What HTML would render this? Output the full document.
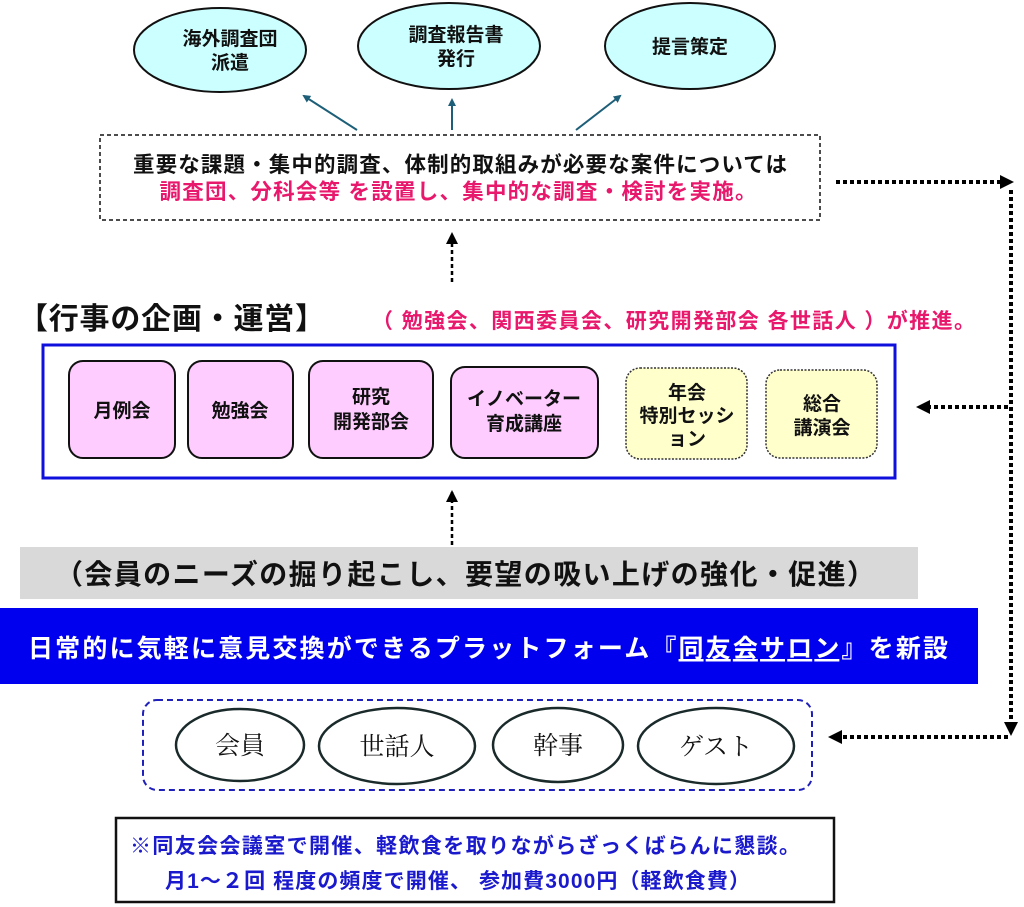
<!DOCTYPE html>
<html><head><meta charset="utf-8"><style>
html,body{margin:0;padding:0;background:#fff;}
svg{display:block;font-family:"Liberation Sans","Noto Sans CJK JP",sans-serif;}
</style></head><body>
<svg width="1024" height="907" viewBox="0 0 1024 907" xmlns="http://www.w3.org/2000/svg">
<defs>
<marker id="ta" markerWidth="8" markerHeight="8" refX="6" refY="4" orient="auto" markerUnits="userSpaceOnUse"><path d="M0,0 L8,4 L0,8 Z" fill="#1d5f78"/></marker>
<marker id="ba" markerWidth="12" markerHeight="12" refX="10" refY="6" orient="auto" markerUnits="userSpaceOnUse"><path d="M0,0 L12,6 L0,12 Z" fill="#000"/></marker>
</defs>
<g fill="#ccffff" stroke="#111" stroke-width="2">
<ellipse cx="220" cy="50" rx="86" ry="42"/>
<ellipse cx="449" cy="46" rx="91" ry="43"/>
<ellipse cx="690" cy="46" rx="85" ry="43"/>
</g>
<g font-size="19" font-weight="bold" text-anchor="middle" fill="#111">
<text x="230" y="45">海外調査団</text><text x="230" y="69">派遣</text>
<text x="456" y="41">調査報告書</text><text x="456" y="65">発行</text>
<text x="690" y="53">提言策定</text>
</g>
<g stroke="#1d5f78" stroke-width="2" marker-end="url(#ta)">
<line x1="357" y1="130" x2="304" y2="96"/>
<line x1="452" y1="130" x2="452" y2="100"/>
<line x1="576" y1="130" x2="620" y2="96"/>
</g>
<rect x="100" y="135" width="720" height="85" fill="none" stroke="#111" stroke-width="1.5" stroke-dasharray="4,3"/>
<text x="460" y="172" font-size="21.5" font-weight="bold" text-anchor="middle" fill="#111" textLength="654">重要な課題・集中的調査、体制的取組みが必要な案件については</text>
<text x="458" y="199" font-size="21.5" font-weight="bold" text-anchor="middle" fill="#e8186c" textLength="597">調査団、分科会等 を設置し、集中的な調査・検討を実施。</text>
<line x1="452" y1="282" x2="452" y2="234" stroke="#000" stroke-width="2.5" stroke-dasharray="4,3" marker-end="url(#ba)"/>
<text x="18" y="329" font-size="30" font-weight="bold" fill="#111" textLength="307">【行事の企画・運営】</text>
<text x="372" y="328" font-size="21" font-weight="bold" fill="#e8186c" textLength="603">（ 勉強会、関西委員会、研究開発部会 各世話人 ）が推進。</text>
<g stroke="#000" stroke-width="4" stroke-dasharray="4,3" fill="none">
<line x1="836" y1="182" x2="1000" y2="182"/>
<line x1="1011" y1="190" x2="1011" y2="722"/>
<line x1="1008" y1="407" x2="930" y2="407"/>
<line x1="1008" y1="737" x2="842" y2="737"/>
</g>
<path d="M1000,175 L1014,182 L1000,189 Z" fill="#000"/>
<path d="M1004,722 L1011,736 L1018,722 Z" fill="#000"/>
<path d="M930,400 L916,407 L930,414 Z" fill="#000"/>
<path d="M842,730 L828,737 L842,744 Z" fill="#000"/>
<rect x="43" y="345" width="852" height="133" fill="#fff" stroke="#1010dd" stroke-width="3"/>
<g fill="#ffccff" stroke="#111" stroke-width="2">
<rect x="69" y="361" width="106" height="97" rx="14"/>
<rect x="188" y="361" width="105" height="97" rx="14"/>
<rect x="309" y="361" width="124" height="97" rx="14"/>
<rect x="451" y="367" width="147" height="91" rx="14"/>
</g>
<g fill="#ffffcc" stroke="#333" stroke-width="1.5" stroke-dasharray="2,1.5">
<rect x="626" y="368" width="121" height="91" rx="14"/>
<rect x="766" y="370" width="111" height="88" rx="14"/>
</g>
<g font-size="19" font-weight="bold" text-anchor="middle" fill="#111">
<text x="122" y="417">月例会</text>
<text x="240" y="417">勉強会</text>
<text x="371" y="403">研究</text><text x="371" y="428">開発部会</text>
<text x="524" y="405">イノベーター</text><text x="524" y="430">育成講座</text>
<text x="687" y="399">年会</text><text x="687" y="422">特別セッシ</text><text x="687" y="445">ョン</text>
<text x="822" y="410">総合</text><text x="822" y="434">講演会</text>
</g>
<line x1="452" y1="545" x2="452" y2="492" stroke="#000" stroke-width="2.5" stroke-dasharray="4,3" marker-end="url(#ba)"/>
<rect x="20" y="547" width="898" height="52" fill="#d9d9d9"/>
<text x="465" y="584" font-size="28" font-weight="bold" text-anchor="middle" fill="#111" textLength="820">（会員のニーズの掘り起こし、要望の吸い上げの強化・促進）</text>
<rect x="0" y="608" width="978" height="76" fill="#0000ee"/>
<text x="488" y="657" font-size="25" font-weight="bold" text-anchor="middle" fill="#fff" textLength="920">日常的に気軽に意見交換ができるプラットフォーム『<tspan text-decoration="underline">同友会サロン</tspan>』を新設</text>
<rect x="143" y="700" width="669" height="90" rx="14" fill="none" stroke="#2020bb" stroke-width="2" stroke-dasharray="6,4"/>
<g fill="#fff" stroke="#1a2a2a" stroke-width="2.5">
<ellipse cx="240" cy="745" rx="64" ry="36"/>
<ellipse cx="397" cy="746" rx="78" ry="38"/>
<ellipse cx="558" cy="745" rx="65" ry="37"/>
<ellipse cx="716" cy="746" rx="78" ry="38"/>
</g>
<g font-family="'Liberation Serif','Noto Serif CJK SC',serif" font-size="25" text-anchor="middle" fill="#111">
<text x="240" y="754">会員</text><text x="397" y="755">世話人</text><text x="558" y="754">幹事</text><text x="716" y="755">ゲスト</text>
</g>
<rect x="116" y="818" width="718" height="84" fill="#fff" stroke="#111" stroke-width="2.5"/>
<text x="130" y="853" font-size="21" font-weight="bold" fill="#1a1acc" textLength="670">※同友会会議室で開催、軽飲食を取りながらざっくばらんに懇談。</text>
<text x="165" y="888" font-size="21" font-weight="bold" fill="#1a1acc" textLength="585">月1～２回 程度の頻度で開催、 参加費3000円（軽飲食費）</text>
</svg>
</body></html>
